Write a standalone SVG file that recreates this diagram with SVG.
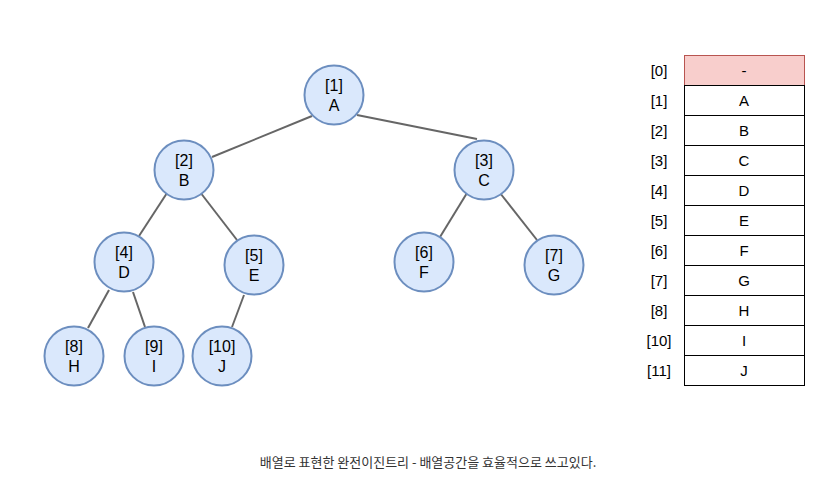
<svg xmlns="http://www.w3.org/2000/svg" width="815" height="478" viewBox="0 0 815 478">
  <style>
    .node circle { fill: #dae8fc; stroke: #6c8ebf; stroke-width: 2; }
    .node text { font-family: "Liberation Sans", Arial, sans-serif; font-size: 16px; fill: #000; text-anchor: middle; }
    .cell text, .idx { font-family: "Liberation Sans", Arial, sans-serif; font-size: 15px; fill: #000; text-anchor: middle; }
    .edges line { stroke: #666666; stroke-width: 2; }
    .cell rect { fill: #ffffff; stroke: #000000; stroke-width: 1; }
    .cell.head rect { fill: #f8cecc; stroke: #b85450; }
    .caption { font-family: "Noto Sans CJK KR", "Noto Sans", sans-serif; font-size: 13px; fill: #333333; text-anchor: middle; }
  </style>

  <!-- tree edges -->
  <g id="edges" class="edges">
    <line x1="312" y1="116" x2="212" y2="157"/>
    <line x1="357" y1="115" x2="477" y2="139"/>
    <line x1="167" y1="193" x2="139" y2="236"/>
    <line x1="200" y1="192" x2="237" y2="240"/>
    <line x1="467" y1="193" x2="440" y2="237"/>
    <line x1="500" y1="193" x2="537" y2="240"/>
    <line x1="109" y1="290" x2="88" y2="328"/>
    <line x1="133" y1="292" x2="145" y2="327"/>
    <line x1="244" y1="295" x2="232" y2="327"/>
  </g>

  <!-- tree nodes -->
  <g id="node-1" class="node"><circle cx="334" cy="95" r="29.5"/><text x="334" y="91">[1]</text><text x="334" y="111">A</text></g>
  <g id="node-2" class="node"><circle cx="184" cy="170" r="29.5"/><text x="184" y="166">[2]</text><text x="184" y="186">B</text></g>
  <g id="node-3" class="node"><circle cx="484" cy="170" r="29.5"/><text x="484" y="166">[3]</text><text x="484" y="186">C</text></g>
  <g id="node-4" class="node"><circle cx="124" cy="262" r="29.5"/><text x="124" y="258">[4]</text><text x="124" y="278">D</text></g>
  <g id="node-5" class="node"><circle cx="254" cy="265" r="29.5"/><text x="254" y="261">[5]</text><text x="254" y="281">E</text></g>
  <g id="node-6" class="node"><circle cx="424" cy="262" r="29.5"/><text x="424" y="258">[6]</text><text x="424" y="278">F</text></g>
  <g id="node-7" class="node"><circle cx="554" cy="265" r="29.5"/><text x="554" y="261">[7]</text><text x="554" y="281">G</text></g>
  <g id="node-8" class="node"><circle cx="74" cy="356" r="29.5"/><text x="74" y="352">[8]</text><text x="74" y="372">H</text></g>
  <g id="node-9" class="node"><circle cx="154" cy="356" r="29.5"/><text x="154" y="352">[9]</text><text x="154" y="372">I</text></g>
  <g id="node-10" class="node"><circle cx="222" cy="356" r="29.5"/><text x="222" y="352">[10]</text><text x="222" y="372">J</text></g>

  <!-- array table -->
  <g id="array">
    <g class="cell head"><rect x="684.5" y="55.5" width="120" height="30"/><text x="744" y="76">-</text></g>
    <g class="cell"><rect x="684.5" y="85.5" width="120" height="30"/><text x="744" y="106">A</text></g>
    <g class="cell"><rect x="684.5" y="115.5" width="120" height="30"/><text x="744" y="136">B</text></g>
    <g class="cell"><rect x="684.5" y="145.5" width="120" height="30"/><text x="744" y="166">C</text></g>
    <g class="cell"><rect x="684.5" y="175.5" width="120" height="30"/><text x="744" y="196">D</text></g>
    <g class="cell"><rect x="684.5" y="205.5" width="120" height="30"/><text x="744" y="226">E</text></g>
    <g class="cell"><rect x="684.5" y="235.5" width="120" height="30"/><text x="744" y="256">F</text></g>
    <g class="cell"><rect x="684.5" y="265.5" width="120" height="30"/><text x="744" y="286">G</text></g>
    <g class="cell"><rect x="684.5" y="295.5" width="120" height="30"/><text x="744" y="316">H</text></g>
    <g class="cell"><rect x="684.5" y="325.5" width="120" height="30"/><text x="744" y="346">I</text></g>
    <g class="cell"><rect x="684.5" y="355.5" width="120" height="30"/><text x="744" y="376">J</text></g>
  </g>

  <!-- array index labels -->
  <g id="indices">
    <text class="idx" x="659" y="76">[0]</text>
    <text class="idx" x="659" y="106">[1]</text>
    <text class="idx" x="659" y="136">[2]</text>
    <text class="idx" x="659" y="166">[3]</text>
    <text class="idx" x="659" y="196">[4]</text>
    <text class="idx" x="659" y="226">[5]</text>
    <text class="idx" x="659" y="256">[6]</text>
    <text class="idx" x="659" y="286">[7]</text>
    <text class="idx" x="659" y="316">[8]</text>
    <text class="idx" x="659" y="346">[10]</text>
    <text class="idx" x="659" y="376">[11]</text>
  </g>

  <text id="caption" class="caption" x="428" y="467">배열로 표현한 완전이진트리 - 배열공간을 효율적으로 쓰고있다.</text>
</svg>
